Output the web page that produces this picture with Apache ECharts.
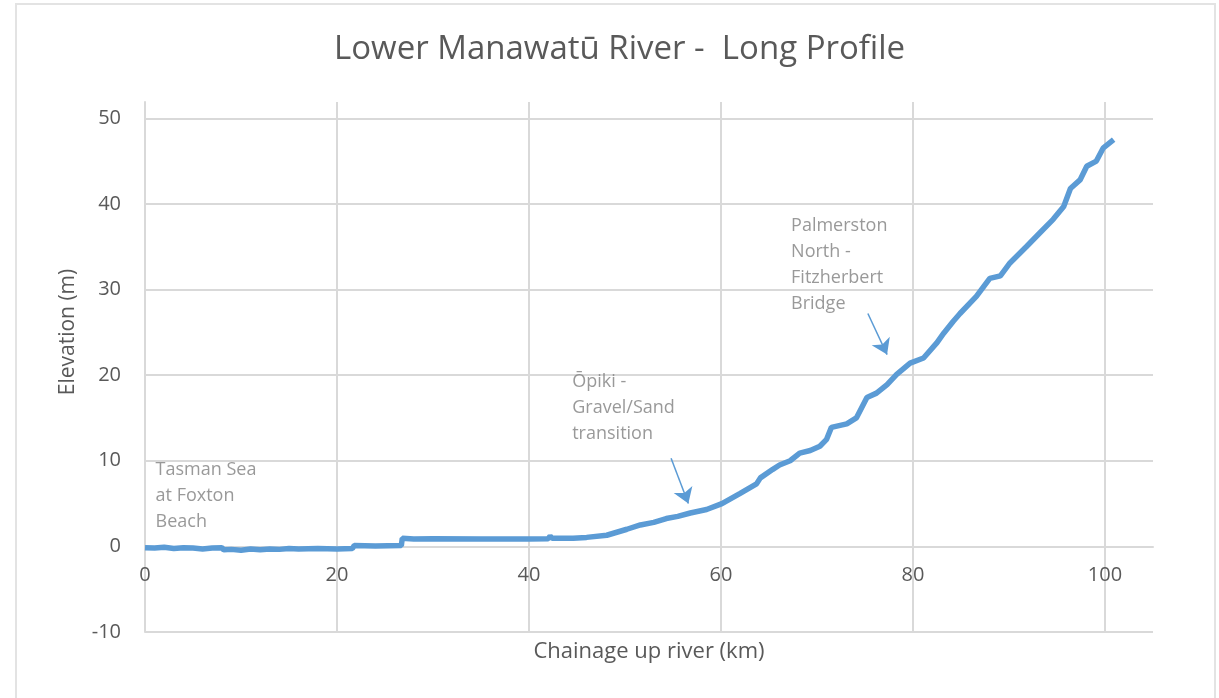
<!DOCTYPE html>
<html>
<head>
<meta charset="utf-8">
<title>Lower Manawatū River - Long Profile</title>
<script src="https://cdn.jsdelivr.net/npm/echarts@6/dist/echarts.min.js"></script>
<style>
  html, body { margin: 0; padding: 0; background: #fff; }
  #chart { width: 1219px; height: 698px; }
</style>
</head>
<body>
<div id="chart"></div>
<script>
// profile: chainage (km) and bed elevation (m)
var chainageKm = [0, 1, 2, 3, 4, 5, 6, 7, 8, 8.2, 9, 10, 11, 12, 13, 14, 15, 16, 18, 20, 21.6, 21.8, 24, 26.7, 26.8, 28, 30, 35, 40, 42, 42.2, 42.4, 44.6, 46, 48.1, 50.2, 51.6, 53, 54.3, 55.5, 56.8, 58.5, 60.1, 62, 63.7, 64.1, 65.4, 66.1, 67.2, 68.2, 69.3, 70.3, 71, 71.5, 73.1, 74.1, 75.2, 76.2, 77.3, 78.3, 79.7, 81.1, 82.5, 83.2, 84.2, 84.9, 86.6, 88, 89.1, 90.1, 91.8, 93.2, 94.6, 95.7, 96.4, 97.4, 98.1, 99.1, 99.8, 100.9];
var elevationM = [-0.15, -0.2, -0.1, -0.25, -0.15, -0.2, -0.3, -0.2, -0.15, -0.4, -0.35, -0.45, -0.3, -0.4, -0.3, -0.35, -0.25, -0.3, -0.25, -0.3, -0.25, 0.1, 0.05, 0.1, 0.95, 0.85, 0.9, 0.85, 0.85, 0.9, 1.2, 0.95, 0.95, 1.05, 1.3, 2.0, 2.5, 2.8, 3.25, 3.5, 3.9, 4.3, 5.0, 6.2, 7.3, 8.0, 9.0, 9.5, 10.0, 10.9, 11.2, 11.7, 12.5, 13.9, 14.3, 15.0, 17.4, 17.9, 18.9, 20.1, 21.4, 22.0, 23.8, 24.9, 26.3, 27.2, 29.2, 31.3, 31.6, 33.1, 35.0, 36.6, 38.2, 39.7, 41.8, 42.8, 44.4, 45.0, 46.5, 47.5];

var xTicksKm = [0, 20, 40, 60, 80, 100];
var yTicksM = [-10, 0, 10, 20, 30, 40, 50];

// annotation text anchored at its top-left corner, in data units
var noteText = [
  'Tasman Sea\nat Foxton\nBeach',
  'Ōpiki -\nGravel/Sand\ntransition',
  'Palmerston\nNorth -\nFitzherbert\nBridge',
  'Ashhurst\nBridge'
];
var noteKm = [1.1, 44.5, 67.3, 99.1];
var noteM = [10.4, 20.7, 38.9, 53.0];

// arrows: [start km, start m] -> [end km, end m]
var arrowFrom = [[54.8, 10.3], [75.3, 27.2]];
var arrowTo = [[56.6, 5.0], [77.3, 22.4]];

var profile = chainageKm.map(function (k, i) { return [k, elevationM[i]]; });
var notes = noteText.map(function (t, i) { return { value: [noteKm[i], noteM[i]], name: t }; });
var arrows = arrowFrom.map(function (a, i) {
  return [{ coord: a }, { coord: arrowTo[i] }];
});

var tickColor = '#595959';
var gridColor = '#d9d9d9';

// plot box in pixels; the x axis sits on the 0 m line like the Excel chart
var gridTop = 102, gridBottom = 66, yMin = -10, yMax = 51.9;
var plotH = 698 - gridTop - gridBottom;
var zeroLift = plotH * (0 - yMin) / (yMax - yMin);

var chart = echarts.init(document.getElementById('chart'), null, { renderer: 'canvas' });

var option = {
  backgroundColor: '#ffffff',
  animation: false,
  textStyle: { fontFamily: 'Open Sans' },
  title: {
    text: 'Lower Manawatū River -  Long Profile',
    left: 329,
    top: 28,
    textStyle: { fontSize: 33, fontWeight: 'normal', color: tickColor, fontFamily: 'Open Sans' }
  },
  graphic: [{
    type: 'rect',
    silent: true,
    shape: { x: 16, y: 4, width: 1199, height: 720 },
    style: { fill: null, stroke: '#e3e3e3', lineWidth: 2 }
  }],
  grid: { left: 145, right: 66, top: gridTop, bottom: gridBottom, containLabel: false, outerBoundsMode: 'none' },
  xAxis: {
    type: 'value',
    min: 0,
    max: 105,
    interval: 20,
    offset: -zeroLift,
    name: 'Chainage up river (km)',
    nameLocation: 'middle',
    nameGap: 94,
    nameTextStyle: { fontSize: 22, color: tickColor },
    axisLine: { show: true, onZero: false, lineStyle: { color: gridColor, width: 2 } },
    axisTick: { show: false },
    axisLabel: {
      show: true,
      color: tickColor,
      fontSize: 20,
      margin: 19,
      showMaxLabel: false,
      formatter: function (v) { return xTicksKm.indexOf(v) >= 0 ? String(v) : ''; }
    },
    splitLine: { show: true, showMaxLine: false, lineStyle: { color: gridColor, width: 2 } }
  },
  yAxis: {
    type: 'value',
    min: yMin,
    max: yMax,
    interval: 10,
    name: 'Elevation (m)',
    nameLocation: 'middle',
    nameGap: 66,
    nameTextStyle: { fontSize: 21, color: tickColor, padding: [0, 0, 0, 70] },
    axisLine: { show: true, onZero: false, lineStyle: { color: gridColor, width: 2 } },
    axisTick: { show: false },
    axisLabel: {
      color: tickColor,
      fontSize: 20,
      margin: 24,
      showMaxLabel: false,
      formatter: function (v) { return yTicksM.indexOf(v) >= 0 ? String(v) : ''; }
    },
    splitLine: { show: true, showMaxLine: false, lineStyle: { color: gridColor, width: 2 } }
  },
  series: [
    {
      name: 'Bed elevation',
      type: 'line',
      data: profile,
      showSymbol: false,
      symbol: 'none',
      lineStyle: { color: '#5b9bd5', width: 5.5 },
      markLine: {
        silent: true,
        symbol: ['none', 'arrow'],
        symbolSize: 15,
        label: { show: false },
        lineStyle: { color: '#5b9bd5', width: 1.5, type: 'solid' },
        data: arrows
      }
    },
    {
      name: 'Notes',
      type: 'scatter',
      data: notes,
      symbolSize: 0,
      silent: true,
      label: {
        show: true,
        position: [0, 0],
        formatter: function (p) { return p.name; },
        color: '#7f7f7f',
        fontSize: 18,
        lineHeight: 26,
        fontFamily: 'Open Sans'
      }
    }
  ]
};

chart.setOption(option);
</script>
</body>
</html>
